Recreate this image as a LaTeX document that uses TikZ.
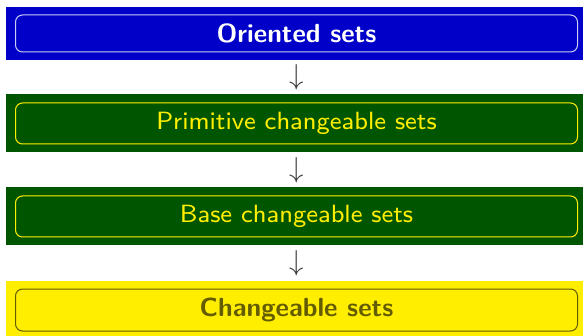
\documentclass[tikz,border=0pt]{standalone}
\usetikzlibrary{positioning}
\definecolor{bandblue}{RGB}{0,0,200}
\definecolor{bandgreen}{RGB}{0,85,0}
\definecolor{bandyellow}{RGB}{255,238,0}
\definecolor{textolive}{RGB}{100,92,0}
\definecolor{arrgray}{RGB}{60,60,60}
\newcommand{\chgtext}[1]{\scalebox{1.56}{\fontsize{8}{10}\selectfont #1}}
\begin{document}
\begin{tikzpicture}[x=0.5pt,y=-0.5pt,
    band/.style={inner sep=0pt,minimum width=290.5pt},
    inbox/.style={rounded corners=3.5pt,line width=0.5pt,inner sep=0pt,
      minimum width=281pt,font=\sffamily},
    boldbox/.style={inbox,font=\sffamily\bfseries\fontsize{13.1}{15}\selectfont},
    arr/.style={inner sep=0pt,text=arrgray,font=\fontsize{14.5}{17}\selectfont}]
      \useasboundingbox (0,0) rectangle (583,336);
      \node[band,fill=bandblue,minimum height=26.5pt] (b1) at (296.5,33.5) {};
      \node[boldbox,draw=white!80!bandblue,text=white,minimum height=18.5pt] (t1) at (296.5,33.5) {Oriented sets};
      \node[band,fill=bandgreen,minimum height=29pt] (b2) at (296.5,123) {};
      \node[inbox,draw=bandyellow,text=bandyellow,minimum height=20.5pt] (t2) at (296.5,123.5) {\chgtext{Primitive changeable sets}};
      \node[band,fill=bandgreen,minimum height=29pt] (b3) at (296.5,216) {};
      \node[inbox,draw=bandyellow,text=bandyellow,minimum height=20.5pt] (t3) at (296.5,216.5) {\chgtext{Base changeable sets}};
      \node[band,fill=bandyellow,minimum height=29pt] (b4) at (296.5,310) {};
      \node[boldbox,draw=textolive,text=textolive,minimum height=21pt] (t4) at (296.5,310) {Changeable sets};
      \node[arr] (a1) at (296.5,77) {$\downarrow$};
      \node[arr] (a2) at (296.5,170) {$\downarrow$};
      \node[arr] (a3) at (296.5,263) {$\downarrow$};
    \end{tikzpicture}
\end{document}
